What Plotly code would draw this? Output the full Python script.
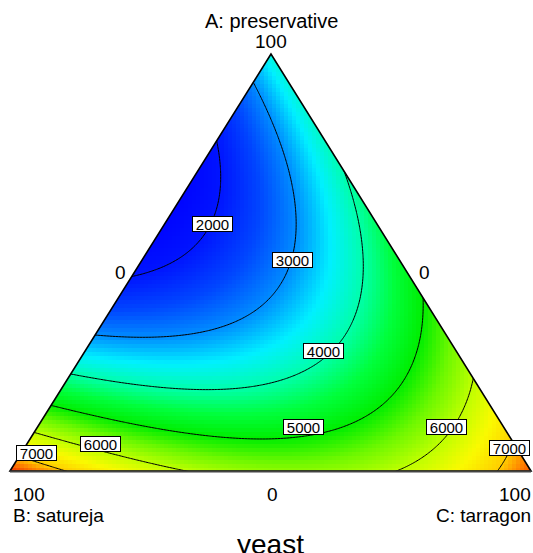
import numpy as np
import plotly.graph_objects as go

# ---- data: fitted Scheffe mixture-model coefficients ----
term_names = ["A", "B", "C", "AB", "AC", "BC", "BC(B-C)"]
coefficients = [3700, 7650, 7500, -15300, -3800, -7500, 1100]

contour_levels = [2000, 3000, 4000, 5000, 6000, 7000]

# contour-label annotations (text + mixture position A, C)
label_text = ["2000", "3000", "4000", "5000", "6000", "7000", "6000", "7000"]
label_A = [0.592, 0.506, 0.288, 0.1055, 0.0647, 0.0432, 0.1055, 0.0552]
label_C = [0.093, 0.288, 0.457, 0.511, 0.142, 0.030, 0.784, 0.932]

# colour ramp: response value -> colour
ramp_values = [1500, 2000, 2500, 3000, 3500, 4000, 4500, 5000, 5500, 6000, 6500, 7000, 7300, 7650]
ramp_colors = ["rgb(0,0,255)", "rgb(0,20,255)", "rgb(0,70,255)", "rgb(0,140,255)",
               "rgb(0,240,255)", "rgb(0,255,170)", "rgb(0,255,60)", "rgb(0,238,0)",
               "rgb(110,248,0)", "rgb(190,255,0)", "rgb(250,250,0)", "rgb(255,205,0)",
               "rgb(255,130,0)", "rgb(240,50,0)"]

# ---- geometry (layout) ----
W, H = 533, 553
TOP = (271.0, 54.0)   # A vertex
BL = (10.0, 471.0)    # B vertex
BR = (531.0, 471.0)   # C vertex


def to_xy(A, C):
    B = 1 - A - C
    x = A * TOP[0] + B * BL[0] + C * BR[0]
    y = A * TOP[1] + B * BL[1] + C * BR[1]
    return x, y


def to_mix(x, y):
    A = (BL[1] - y) / (BL[1] - TOP[1])
    C = (x - BL[0] - (TOP[0] - BL[0]) * A) / (BR[0] - BL[0])
    B = 1 - A - C
    return A, B, C


def model(x, y):
    A, B, C = to_mix(x, y)
    bA, bB, bC, bAB, bAC, bBC, dBC = coefficients
    return (bA * A + bB * B + bC * C + bAB * A * B + bAC * A * C
            + bBC * B * C + dBC * B * C * (B - C))


zmin, zmax = ramp_values[0], ramp_values[-1]
colorscale = [[(v - zmin) / (zmax - zmin), c] for v, c in zip(ramp_values, ramp_colors)]

# coarse grid for the colour field (blocky like the original)
xs = np.arange(2, W + 4, 4.0)
ys = np.arange(50, 476, 4.0)
XX, YY = np.meshgrid(xs, ys)
Z = model(XX, YY)

# fine grid for the contour lines
xf = np.arange(0, W + 2, 1.5)
yf = np.arange(40, 476, 1.5)
XF, YF = np.meshgrid(xf, yf)
ZF = model(XF, YF)

fig = go.Figure()
fig.add_trace(go.Heatmap(x=xs, y=ys, z=Z, colorscale=colorscale, zmin=zmin, zmax=zmax,
                         showscale=False, zsmooth=False, hoverinfo="skip"))
fig.add_trace(go.Contour(x=xf, y=yf, z=ZF, showscale=False, hoverinfo="skip",
                         contours=dict(start=contour_levels[0], end=contour_levels[-1],
                                       size=contour_levels[1] - contour_levels[0],
                                       coloring="none"),
                         line=dict(color="black", width=1)))

# white masks outside the triangle + outline
shapes = [
    dict(type="path", path=f"M -5,-5 L {TOP[0]},-5 L {TOP[0]},{TOP[1]} L {BL[0]},{BL[1]} L -5,{BL[1]} Z",
         fillcolor="white", line=dict(width=0), layer="above"),
    dict(type="path", path=f"M {TOP[0]},-5 L 545,-5 L 545,{BR[1]} L {BR[0]},{BR[1]} L {TOP[0]},{TOP[1]} Z",
         fillcolor="white", line=dict(width=0), layer="above"),
    dict(type="rect", x0=-5, x1=545, y0=BL[1], y1=570,
         fillcolor="white", line=dict(width=0), layer="above"),
    dict(type="path", path=f"M {TOP[0]},{TOP[1]} L {BL[0]},{BL[1]} L {BR[0]},{BR[1]} Z",
         fillcolor="rgba(0,0,0,0)", line=dict(color="black", width=1.6), layer="above"),
    dict(type="line", x0=BL[0], x1=BR[0], y0=BL[1] + 0.5, y1=BR[1] + 0.5,
         line=dict(color="#444444", width=2), layer="above"),
]

font = "Liberation Sans, Arial, sans-serif"
annotations = []
for t, a, c in zip(label_text, label_A, label_C):
    x, y = to_xy(a, c)
    annotations.append(dict(x=x, y=y, text=t, showarrow=False, xref="x", yref="y",
                            font=dict(family=font, size=15, color="black"),
                            bgcolor="white", bordercolor="black", borderwidth=1,
                            borderpad=0, width=39, height=14))


def txt(x, y, s, size=19, xanchor="center"):
    annotations.append(dict(x=x, y=y, text=s, showarrow=False, xref="x", yref="y",
                            xanchor=xanchor, yanchor="middle",
                            font=dict(family=font, size=size, color="black")))


txt(271, 21, "A: preservative", size=20)
txt(271, 41, "100")
txt(120, 272, "0")
txt(424, 272, "0")
txt(11, 494, "100", xanchor="left")
txt(272, 494, "0")
txt(533, 494, "100", xanchor="right")
txt(11, 515, "B: satureja", xanchor="left")
txt(533, 515, "C: tarragon", xanchor="right")
txt(270, 544, "yeast", size=28)

fig.update_layout(width=W, height=H, margin=dict(l=0, r=0, t=0, b=0),
                  paper_bgcolor="white", plot_bgcolor="white",
                  xaxis=dict(range=[0, W], visible=False, fixedrange=True),
                  yaxis=dict(range=[H, 0], visible=False, fixedrange=True),
                  shapes=shapes, annotations=annotations, showlegend=False)

fig.write_html("out.html")
